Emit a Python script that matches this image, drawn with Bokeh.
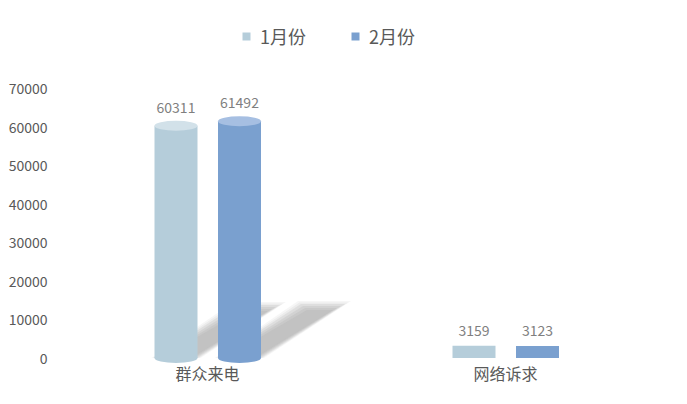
from bokeh.plotting import figure
from bokeh.models import Range1d, FixedTicker, Legend, LegendItem, ColumnDataSource, LabelSet
from bokeh.core.properties import value
from bokeh.embed import file_html
from bokeh.resources import INLINE

# ---- data ----
categories = ["群众来电", "网络诉求"]
series_names = ["1月份", "2月份"]
jan_values = [60311, 3159]
feb_values = [61492, 3123]
y_tick_values = [0, 10000, 20000, 30000, 40000, 50000, 60000, 70000]

# ---- style ----
FONT = "Noto Sans CJK SC"
body_colors = ["#b5cdda", "#7aa0cf"]
cap_colors = ["#d2e1e9", "#a6bfe2"]
text_color = "#595959"
label_color = "#7f7f7f"

W, H = 671, 388
B_LEFT, B_RIGHT, B_TOP, B_BOTTOM = 58, 17, 18, 0
frame_w = W - B_LEFT - B_RIGHT
frame_h = H - B_TOP - B_BOTTOM
zero_px = 357.5 - B_TOP                 # distance of value 0 below the frame top
px_per_10k = 38.5
y_end = zero_px / px_per_10k * 10000
y_start = -(frame_h - zero_px) / px_per_10k * 10000
x_start, x_end = -0.5, len(categories) - 0.5

ux = (x_end - x_start) / frame_w       # data units per screen px (x)
uy = (y_end - y_start) / frame_h       # data units per screen px (y)

bar_w = 43 * ux
offsets = [-31.5 * ux, 32.0 * ux]
CAP_H = 10

p = figure(width=W, height=H, output_backend="svg", toolbar_location=None,
           x_range=Range1d(x_start, x_end), y_range=Range1d(y_start, y_end),
           min_border_left=B_LEFT, min_border_right=B_RIGHT,
           min_border_top=B_TOP, min_border_bottom=B_BOTTOM)
p.outline_line_color = None
p.xgrid.visible = False
p.ygrid.visible = False
p.xaxis.visible = False
p.background_fill_color = "white"
p.border_fill_color = "white"

all_series = [jan_values, feb_values]
xs_idx = list(range(len(categories)))

# soft drop shadows (behind the bars), only for tall bars
for s, vals in enumerate(all_series):
    for e, a in [(-3, 0.10), (-1.5, 0.12), (0, 0.2), (2, 0.22), (4, 0.22), (6, 0.22)]:
        sxs, sys = [], []
        for i, v in enumerate(vals):
            h_px = 0.228 * v / uy
            if h_px < 10:
                continue
            c = xs_idx[i] + offsets[s]
            xl = c - bar_w / 2
            xr = c + bar_w / 2
            top_r = xr + (84.0 / 54.0) * h_px * ux
            top_l = xr + (40.0 / 54.0) * h_px * ux
            htop = (h_px - e) * uy
            sxs.append([xl + e * ux, xr - e * ux, top_r - 2 * e * ux, top_l + e * ux])
            sys.append([0, 0, htop, htop])
        if sxs:
            p.patches(sxs, sys, fill_color="#a8a8a8", fill_alpha=a, line_color=None)

renderers = []
for s, vals in enumerate(all_series):
    xs = [i + offsets[s] for i in xs_idx]
    tall = [v / uy > 4 * CAP_H for v in vals]
    cx = [x for x, t in zip(xs, tall) if t]
    cv = [v for v, t in zip(vals, tall) if t]
    # rounded bottom
    p.ellipse(x=cx, y=[0] * len(cx), width=bar_w, height=CAP_H, height_units="screen",
              fill_color=body_colors[s], line_color=None)
    r = p.vbar(x=xs, top=vals, bottom=0, width=bar_w, fill_color=body_colors[s], line_color=None)
    renderers.append(r)
    # top cap
    p.ellipse(x=cx, y=cv, width=bar_w, height=CAP_H, height_units="screen",
              fill_color=cap_colors[s], line_color=None)
    src = ColumnDataSource(dict(x=xs, y=vals, t=[str(v) for v in vals],
                                yo=[10 + (3 if t else 0) for t in tall]))
    p.add_layout(LabelSet(x="x", y="y", text="t", source=src, y_offset="yo",
                          text_align="center", text_baseline="bottom",
                          text_font=value(FONT), text_font_size="14px", text_color=label_color))

# category labels under the bars
cat_src = ColumnDataSource(dict(x=xs_idx, y=[0] * len(categories), t=categories))
p.add_layout(LabelSet(x="x", y="y", text="t", source=cat_src, y_offset=-15,
                      text_align="center", text_baseline="middle",
                      text_font=value(FONT), text_font_size="16px", text_color=text_color))

# y axis
p.yaxis.ticker = FixedTicker(ticks=y_tick_values)
p.yaxis.axis_line_color = None
p.yaxis.major_tick_line_color = None
p.yaxis.minor_tick_line_color = None
p.yaxis.major_tick_out = 0
p.yaxis.major_tick_in = 0
p.yaxis.major_label_standoff = 11
p.yaxis.major_label_text_font = FONT
p.yaxis.major_label_text_font_size = "14px"
p.yaxis.major_label_text_color = text_color

legend = Legend(items=[LegendItem(label=n, renderers=[r]) for n, r in zip(series_names, renderers)],
                location=(183, frame_h - 31), orientation="horizontal",
                glyph_width=10, glyph_height=10, label_standoff=9, spacing=44,
                padding=0, margin=0, border_line_color=None, background_fill_alpha=0,
                label_text_font=FONT, label_text_font_size="18px", label_text_color=text_color)
p.add_layout(legend)

open("out.html", "w").write(file_html(p, INLINE))
